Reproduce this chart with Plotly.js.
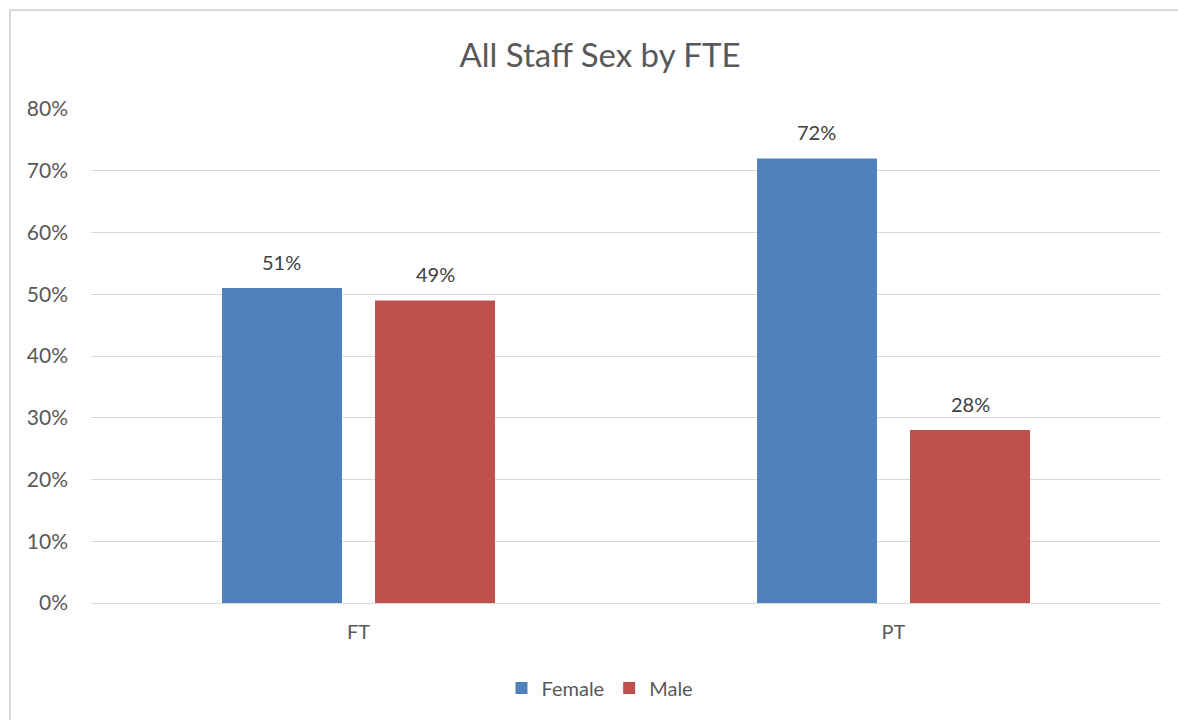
<!DOCTYPE html>
<html><head><meta charset="utf-8">
<script src="https://cdn.plot.ly/plotly-3.0.1.min.js"></script>
<style>
html,body{margin:0;padding:0;overflow:hidden;background:#fff;}
#wrap{position:relative;width:1178px;height:720px;overflow:hidden;}
#chart{width:1178px;height:720px;}
#frame{position:absolute;left:9px;top:9px;width:1300px;height:900px;border:2px solid #d9d9d9;pointer-events:none;}
</style></head>
<body>
<div id="wrap"><div id="chart"></div><div id="frame"></div></div>
<script>
const categories = ["FT", "PT"];
const female = [0.51, 0.72];
const male = [0.49, 0.28];
const seriesNames = ["Female", "Male"];
const colors = ["#4F81BD", "#C0504D"];
const yTicks = [0, 0.1, 0.2, 0.3, 0.4, 0.5, 0.6, 0.7, 0.8];

const FONT = "Lato, 'Open Sans', sans-serif";
const series = [female, male];
const traces = series.map((vals, i) => ({
  type: "bar", name: seriesNames[i], x: categories, y: vals,
  marker: {color: colors[i], line: {width: 0}}, hoverinfo: "none"
}));

const W = 1178, ml = 91, mr = 17;
const plotW = W - ml - mr;
const bargap = 0.428, bargroupgap = 0.216;
const catW = plotW / categories.length;
const groupW = catW * (1 - bargap);
const slot = groupW / series.length;
const annotations = [];
series.forEach((vals, i) => {
  vals.forEach((v, j) => {
    annotations.push({
      x: categories[j], y: v, xref: "x", yref: "y",
      text: Math.round(v * 100) + "%", showarrow: false,
      yanchor: "bottom", yshift: 12,
      xshift: (i - (series.length - 1) / 2) * slot,
      font: {family: FONT, size: 20, color: "#404040"}
    });
  });
});

const layout = {
  width: 1178, height: 720, autosize: false,
  margin: {l: ml, r: mr, t: 109, b: 117, autoexpand: false},
  paper_bgcolor: "#fff", plot_bgcolor: "#fff",
  title: {text: "All Staff Sex by FTE", x: 600 / 1178, xref: "container", xanchor: "center",
          y: 1 - 55 / 720, yanchor: "middle", font: {family: FONT, size: 33, color: "#595959"}},
  barmode: "group", bargap: bargap, bargroupgap: bargroupgap,
  xaxis: {type: "category", showgrid: false, showline: false, zeroline: false, ticks: "",
          ticklabelstandoff: 15, tickfont: {family: FONT, size: 20, color: "#595959"}, fixedrange: true},
  yaxis: {range: [0, 0.8], tickvals: yTicks, tickformat: ".0%", showgrid: true, gridcolor: "#d9d9d9",
          gridwidth: 1, zeroline: true, zerolinecolor: "#d9d9d9", zerolinewidth: 1, showline: false, ticks: "",
          ticklabelstandoff: 22, tickfont: {family: FONT, size: 21, color: "#595959"}, fixedrange: true},
  showlegend: true,
  legend: {orientation: "h", x: (600 - ml) / plotW, xanchor: "center", y: -0.172, yanchor: "middle",
           font: {family: FONT, size: 20, color: "#595959"}, itemwidth: 30, traceorder: "normal"},
  annotations: annotations
};
Plotly.newPlot("chart", traces, layout, {staticPlot: true, displayModeBar: false});
</script>
</body></html>
